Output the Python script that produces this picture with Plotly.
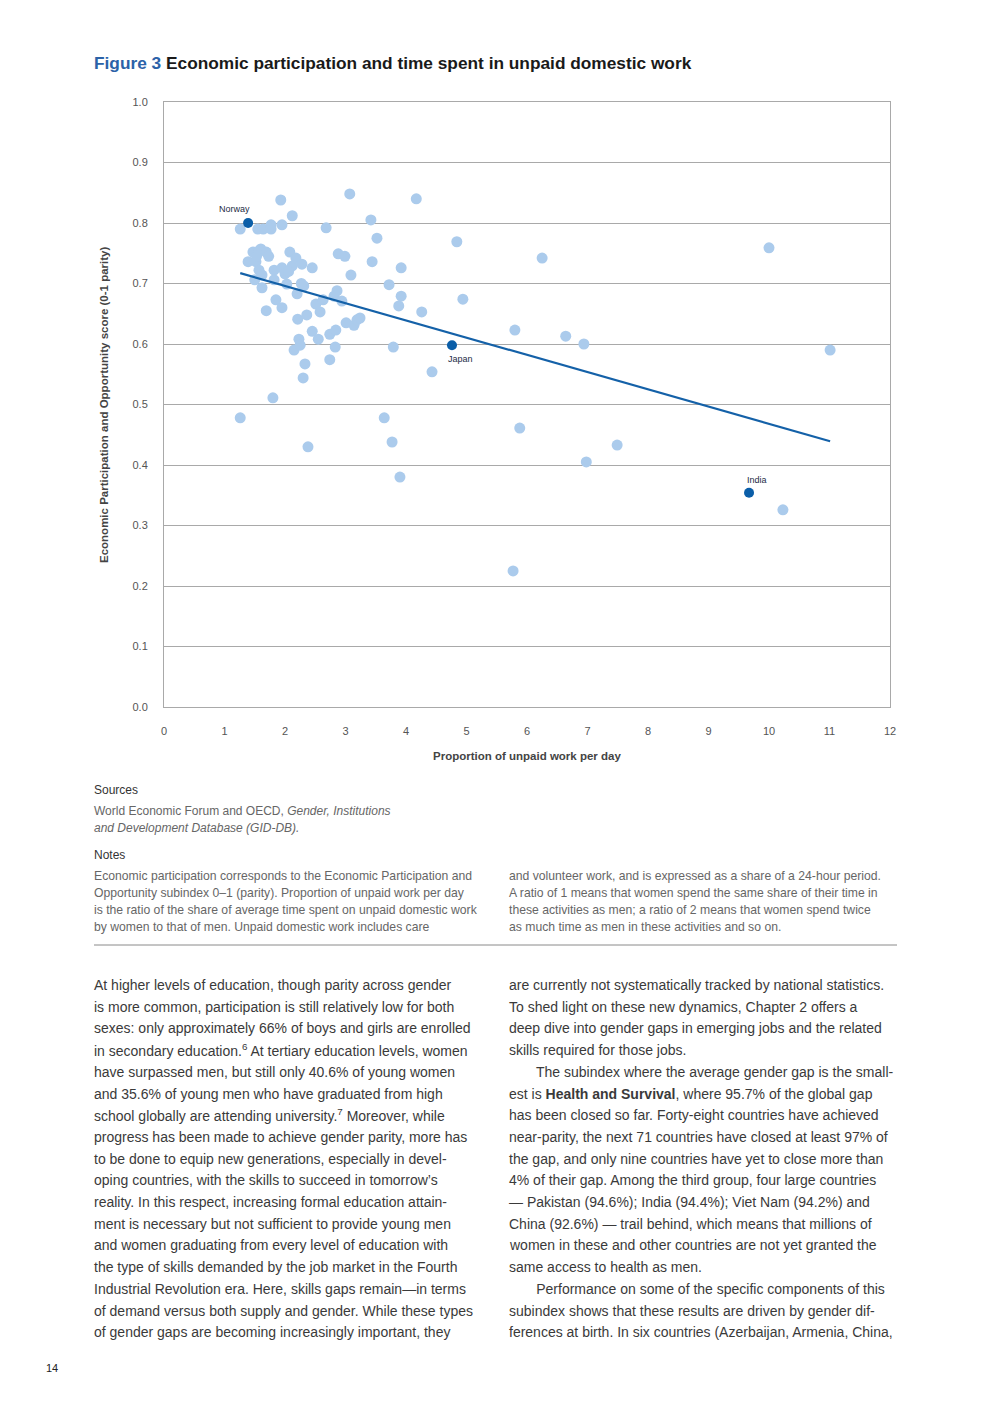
import numpy as np
import plotly.graph_objects as go

# ---- data ----
unpaid_ratio = [1.26, 1.26, 1.39, 1.47, 1.50, 1.52, 1.55, 1.57, 1.57, 1.62, 1.60, 1.64, 1.69, 1.62, 1.69,
                1.77, 1.77, 1.82, 1.82, 1.80, 1.85, 1.93, 1.95, 1.95, 1.95, 2.00, 2.03, 2.08, 2.12, 2.12,
                2.18, 2.20, 2.15, 2.21, 2.23, 2.25, 2.28, 2.30, 2.33, 2.31, 2.36, 2.38, 2.45, 2.45, 2.51,
                2.55, 2.58, 2.63, 2.68, 2.74, 2.74, 2.81, 2.83, 2.84, 2.86, 2.88, 2.94, 2.99, 3.01, 3.07,
                3.09, 3.14, 3.19, 3.24, 3.42, 3.44, 3.52, 3.64, 3.72, 3.77, 3.79, 3.88, 3.92, 3.92, 3.90,
                4.17, 4.26, 4.43, 4.84, 4.94, 5.77, 5.80, 5.88, 6.25, 6.64, 6.94, 6.98, 7.49, 10.00, 10.23,
                11.01, 1.73, 1.53, 2.06, 2.27]
econ_score = [0.790, 0.478, 0.736, 0.752, 0.706, 0.736, 0.790, 0.754, 0.722, 0.714, 0.757, 0.790, 0.752, 0.693, 0.655,
              0.797, 0.790, 0.722, 0.706, 0.511, 0.673, 0.838, 0.797, 0.726, 0.660, 0.716, 0.699, 0.752, 0.729, 0.812,
              0.742, 0.683, 0.590, 0.641, 0.608, 0.598, 0.732, 0.544, 0.567, 0.696, 0.648, 0.430, 0.726, 0.621, 0.666,
              0.608, 0.653, 0.673, 0.792, 0.574, 0.616, 0.679, 0.595, 0.623, 0.688, 0.749, 0.671, 0.745, 0.635, 0.848,
              0.714, 0.631, 0.640, 0.643, 0.805, 0.736, 0.775, 0.478, 0.698, 0.438, 0.595, 0.663, 0.726, 0.679, 0.380,
              0.840, 0.653, 0.554, 0.769, 0.674, 0.225, 0.623, 0.461, 0.742, 0.613, 0.600, 0.405, 0.433, 0.759, 0.326,
              0.590, 0.745, 0.745, 0.720, 0.700]

highlight_names = ["Norway", "Japan", "India"]
highlight_x = [1.39, 4.76, 9.67]
highlight_y = [0.800, 0.598, 0.354]

x_ticks = list(range(0, 13))
y_ticks = [round(v * 0.1, 1) for v in range(0, 11)]

title_prefix = "Figure 3"
title_text = "Economic participation and time spent in unpaid domestic work"
x_title = "Proportion of unpaid work per day"
y_title = "Economic Participation and Opportunity score (0-1 parity)"

sources_head = "Sources"
sources_lines = ["World Economic Forum and OECD, <i>Gender, Institutions</i>",
                 "<i>and Development Database (GID-DB).</i>"]
notes_head = "Notes"
notes_left = ["Economic participation corresponds to the Economic Participation and",
              "Opportunity subindex 0–1 (parity). Proportion of unpaid work per day",
              "is the ratio of the share of average time spent on unpaid domestic work",
              "by women to that of men. Unpaid domestic work includes care"]
notes_right = ["and volunteer work, and is expressed as a share of a 24-hour period.",
               "A ratio of 1 means that women spend the same share of their time in",
               "these activities as men; a ratio of 2 means that women spend twice",
               "as much time as men in these activities and so on."]

body_left = [
    "At higher levels of education, though parity across gender",
    "is more common, participation is still relatively low for both",
    "sexes: only approximately 66% of boys and girls are enrolled",
    "in secondary education.<sup>6</sup> At tertiary education levels, women",
    "have surpassed men, but still only 40.6% of young women",
    "and 35.6% of young men who have graduated from high",
    "school globally are attending university.<sup>7</sup> Moreover, while",
    "progress has been made to achieve gender parity, more has",
    "to be done to equip new generations, especially in devel-",
    "oping countries, with the skills to succeed in tomorrow’s",
    "reality. In this respect, increasing formal education attain-",
    "ment is necessary but not sufficient to provide young men",
    "and women graduating from every level of education with",
    "the type of skills demanded by the job market in the Fourth",
    "Industrial Revolution era. Here, skills gaps remain—in terms",
    "of demand versus both supply and gender. While these types",
    "of gender gaps are becoming increasingly important, they",
]
body_right = [
    "are currently not systematically tracked by national statistics.",
    "To shed light on these new dynamics, Chapter 2 offers a",
    "deep dive into gender gaps in emerging jobs and the related",
    "skills required for those jobs.",
    "       The subindex where the average gender gap is the small-",
    "est is <b>Health and Survival</b>, where 95.7% of the global gap",
    "has been closed so far. Forty-eight countries have achieved",
    "near-parity, the next 71 countries have closed at least 97% of",
    "the gap, and only nine countries have yet to close more than",
    "4% of their gap. Among the third group, four large countries",
    "— Pakistan (94.6%); India (94.4%); Viet Nam (94.2%) and",
    "China (92.6%) — trail behind, which means that millions of",
    "women in these and other countries are not yet granted the",
    "same access to health as men.",
    "       Performance on some of the specific components of this",
    "subindex shows that these results are driven by gender dif-",
    "ferences at birth. In six countries (Azerbaijan, Armenia, China,",
]
page_number = "14"

# ---- layout geometry (reference page pixels) ----
W, H = 992, 1403
L, R, T, B = 164, 890, 102, 707
OFF = 8  # default page body margin


def px(xp):
    return (xp - L) / (R - L)


def py(yp):
    return (B - yp) / (B - T)


FONT = "Liberation Sans, Arial, sans-serif"

# trend line (least squares on all countries)
all_x = np.array(unpaid_ratio + highlight_x)
all_y = np.array(econ_score + highlight_y)
slope, intercept = np.polyfit(all_x, all_y, 1)
trend_x = np.array([all_x.min(), all_x.max()])
trend_y = slope * trend_x + intercept

fig = go.Figure()
fig.add_trace(go.Scatter(x=unpaid_ratio, y=econ_score, mode="markers",
                         marker=dict(size=11, color="#abcbec"), hoverinfo="skip", showlegend=False))
fig.add_trace(go.Scatter(x=trend_x, y=trend_y, mode="lines",
                         line=dict(color="#1461a8", width=2.2), hoverinfo="skip", showlegend=False))
fig.add_trace(go.Scatter(x=highlight_x, y=highlight_y, mode="markers",
                         marker=dict(size=10, color="#0a5ea8"), hoverinfo="skip", showlegend=False))

annotations = []
label_shift = {"Norway": (-14, 14), "Japan": (9, -14), "India": (8, 13)}
for n, xv, yv in zip(highlight_names, highlight_x, highlight_y):
    dx, dy = label_shift[n]
    annotations.append(dict(x=xv, y=yv, xref="x", yref="y", text=n, showarrow=False,
                            xshift=dx, yshift=dy, font=dict(family=FONT, size=9, color="#1d2b45")))


def text_line(xp, yp, txt, size, color):
    annotations.append(dict(x=px(xp), y=py(yp), xref="paper", yref="paper", xanchor="left", yanchor="middle",
                            showarrow=False, text=txt, borderpad=0, borderwidth=0,
                            font=dict(family=FONT, size=size, color=color)))


# title
text_line(94, 63, f"<b><span style='color:#2b62a8'>{title_prefix}</span> {title_text}</b>", 17.3, "#1a1a1a")
# axis titles
annotations.append(dict(x=px(527), y=py(756), xref="paper", yref="paper", xanchor="center", yanchor="middle",
                        showarrow=False, text=f"<b>{x_title}</b>",
                        font=dict(family=FONT, size=11.5, color="#444")))
annotations.append(dict(x=px(104), y=py(405), xref="paper", yref="paper", xanchor="center", yanchor="middle",
                        showarrow=False, text=f"<b>{y_title}</b>", textangle=-90,
                        font=dict(family=FONT, size=11.5, color="#444")))

text_line(94, 790, sources_head, 12, "#333")
for i, s in enumerate(sources_lines):
    text_line(94, 811 + i * 17, s, 12, "#666")
text_line(94, 855, notes_head, 12, "#333")
for i, s in enumerate(notes_left):
    text_line(94, 876 + i * 17, s, 12.2, "#666")
for i, s in enumerate(notes_right):
    text_line(509, 876 + i * 17, s, 12.2, "#666")

for i, s in enumerate(body_left):
    text_line(94, 985 + i * 21.7, s, 14, "#3a3a3a")
for i, s in enumerate(body_right):
    text_line(509, 985 + i * 21.7, s, 14, "#3a3a3a")

text_line(46, 1368, page_number, 11, "#222")

fig.update_layout(
    width=W - OFF, height=H - OFF,
    margin=dict(l=L - OFF, r=W - R, t=T - OFF, b=H - B, pad=0),
    paper_bgcolor="white", plot_bgcolor="white",
    font=dict(family=FONT, size=11, color="#555"),
    annotations=annotations,
    shapes=[dict(type="line", xref="paper", yref="paper", x0=px(94), x1=px(897), y0=py(945), y1=py(945),
                 line=dict(color="#8a8a8a", width=1))],
)
fig.update_xaxes(range=[0, 12], tickvals=x_ticks, ticktext=[str(v) for v in x_ticks], showgrid=False,
                 zeroline=False, showline=True, mirror=True, linecolor="#a9a9a9", linewidth=1,
                 ticks="", ticklabelstandoff=14, tickfont=dict(family=FONT, size=11, color="#555"))
fig.update_yaxes(range=[0, 1], tickvals=y_ticks, ticktext=[f"{v:.1f}" for v in y_ticks], showgrid=True,
                 gridcolor="#a9a9a9", gridwidth=1, zeroline=False, showline=True, mirror=True,
                 linecolor="#a9a9a9", linewidth=1, ticks="", ticklabelstandoff=13,
                 tickfont=dict(family=FONT, size=11, color="#555"))

fig.write_html("out.html")
